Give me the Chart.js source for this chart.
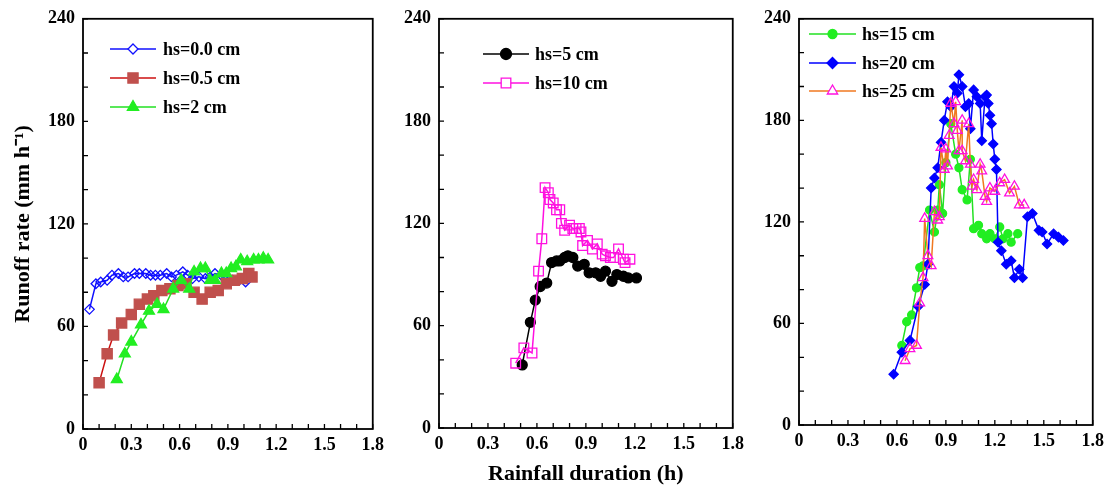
<!DOCTYPE html>
<html>
<head>
<meta charset="utf-8">
<script src="https://cdn.jsdelivr.net/npm/chart.js@4.4.1/dist/chart.umd.min.js"></script>
<style>
  body { margin: 0; background: #fff; }
  #wrap { position: relative; width: 1110px; height: 488px; overflow: hidden; }
  canvas { position: absolute; top: 0; }
</style>
</head>
<body>
<div id="wrap">
  <canvas id="c1" width="390" height="488" style="left:0px"></canvas>
  <canvas id="c2" width="350" height="488" style="left:400px"></canvas>
  <canvas id="c3" width="360" height="488" style="left:750px"></canvas>
</div>
<script>
// ---- panel 1 ----
let hs00X = [0.04, 0.08, 0.11, 0.15, 0.18, 0.22, 0.25, 0.28, 0.32, 0.35, 0.39, 0.42, 0.45, 0.48, 0.52, 0.55, 0.58, 0.62, 0.65, 0.68, 0.72, 0.76, 0.79, 0.82, 0.86, 0.89, 0.93, 0.97, 1.01];
let hs00Y = [70, 85, 86, 87, 90, 91, 89, 89, 91, 91, 91, 90, 90, 90, 91, 89, 90, 92, 90, 88, 89, 88, 89, 91, 90, 89, 87, 87, 86];

let hs05X = [0.10, 0.15, 0.19, 0.24, 0.30, 0.35, 0.40, 0.44, 0.49, 0.54, 0.59, 0.64, 0.69, 0.74, 0.79, 0.84, 0.89, 0.94, 0.99, 1.03, 1.05];
let hs05Y = [27, 44, 55, 62, 67, 73, 76, 78, 81, 82, 84, 85, 80, 76, 80, 81, 85, 87, 88, 91, 89];

let hs2X = [0.21, 0.26, 0.30, 0.36, 0.41, 0.46, 0.50, 0.56, 0.61, 0.66, 0.69, 0.73, 0.76, 0.79, 0.82, 0.86, 0.89, 0.92, 0.95, 0.98, 1.02, 1.06, 1.09, 1.12, 1.15];
let hs2Y = [29, 44, 51, 61, 69, 73, 70, 82, 87, 82, 92, 94, 94, 87, 87, 91, 91, 94, 95, 99, 98, 99, 99, 100, 99];

// ---- panel 2 ----
let hs5X = [0.51, 0.56, 0.59, 0.62, 0.66, 0.69, 0.72, 0.74, 0.77, 0.79, 0.82, 0.85, 0.89, 0.92, 0.96, 0.99, 1.02, 1.06, 1.09, 1.13, 1.16, 1.21];
let hs5Y = [37, 62, 75, 83, 85, 97, 98, 98, 100, 101, 100, 95, 96, 91, 91, 89, 92, 86, 90, 89, 88, 88];

let hs10X = [0.47, 0.52, 0.57, 0.61, 0.63, 0.65, 0.67, 0.68, 0.70, 0.72, 0.74, 0.75, 0.77, 0.80, 0.82, 0.84, 0.86, 0.87, 0.88, 0.91, 0.94, 0.97, 1.00, 1.02, 1.05, 1.07, 1.10, 1.13, 1.14, 1.17];
let hs10Y = [38, 47, 44, 92, 111, 141, 138, 134, 132, 128, 128, 120, 116, 119, 117, 117, 117, 115, 107, 110, 105, 108, 102, 101, 100, 100, 105, 99, 97, 99];

// ---- panel 3 ----
let hs15X = [0.63, 0.66, 0.69, 0.72, 0.74, 0.76, 0.80, 0.83, 0.85, 0.86, 0.88, 0.90, 0.93, 0.96, 0.98, 1.00, 1.03, 1.05, 1.07, 1.10, 1.12, 1.15, 1.17, 1.20, 1.23, 1.25, 1.28, 1.30, 1.34];
let hs15Y = [47, 61, 65, 81, 93, 94, 127, 114, 127, 142, 125, 155, 178, 160, 152, 139, 133, 157, 116, 118, 113, 110, 113, 110, 117, 110, 113, 108, 113];

let hs20X = [0.58, 0.63, 0.68, 0.73, 0.77, 0.79, 0.81, 0.83, 0.85, 0.87, 0.89, 0.91, 0.93, 0.95, 0.97, 0.98, 1.00, 1.02, 1.04, 1.05, 1.07, 1.09, 1.11, 1.12, 1.14, 1.15, 1.16, 1.17, 1.18, 1.19, 1.20, 1.21, 1.22, 1.24, 1.27, 1.30, 1.32, 1.35, 1.37, 1.40, 1.43, 1.47, 1.49, 1.52, 1.56, 1.59, 1.62];
let hs20Y = [30, 43, 50, 70, 83, 95, 140, 146, 152, 167, 180, 191, 188, 200, 196, 207, 200, 188, 190, 175, 198, 194, 190, 168, 194, 195, 190, 183, 178, 166, 157, 151, 108, 103, 95, 97, 87, 92, 87, 123, 125, 115, 114, 107, 113, 111, 109];

let hs25X = [0.65, 0.68, 0.72, 0.74, 0.76, 0.77, 0.79, 0.81, 0.83, 0.85, 0.86, 0.87, 0.89, 0.90, 0.91, 0.92, 0.93, 0.95, 0.96, 0.97, 0.98, 1.00, 1.00, 1.02, 1.04, 1.05, 1.06, 1.07, 1.09, 1.11, 1.12, 1.14, 1.15, 1.17, 1.20, 1.23, 1.26, 1.29, 1.32, 1.35, 1.38];
let hs25Y = [38, 45, 47, 72, 87, 122, 100, 94, 126, 121, 123, 164, 151, 163, 153, 171, 190, 178, 191, 174, 162, 180, 162, 156, 178, 154, 141, 145, 139, 154, 150, 135, 132, 140, 138, 143, 145, 137, 141, 130, 130];

const serif = "'Liberation Serif', 'Times New Roman', serif";

function pts(xs, ys) {
  return xs.map((x, i) => ({ x: x, y: ys[i] }));
}

function marker(ctx, style, r, x, y) {
  ctx.beginPath();
  if (style === "circle") {
    ctx.arc(x, y, r, 0, Math.PI * 2);
  } else if (style === "rect") {
    let h = r * Math.SQRT1_2;
    ctx.rect(x - h, y - h, 2 * h, 2 * h);
  } else if (style === "rectRot") {
    ctx.moveTo(x, y - r);
    ctx.lineTo(x + r, y);
    ctx.lineTo(x, y + r);
    ctx.lineTo(x - r, y);
    ctx.closePath();
  } else if (style === "triangle") {
    for (let k = 0; k < 3; k++) {
      let a = k * 2 * Math.PI / 3;
      let px = x + Math.sin(a) * r, py = y - Math.cos(a) * r;
      if (k === 0) ctx.moveTo(px, py); else ctx.lineTo(px, py);
    }
    ctx.closePath();
  }
  ctx.fill();
  ctx.stroke();
}

// frame, inward ticks and inside legend
const framePlugin = {
  id: "framePlugin",
  afterDraw(chart, args, opts) {
    const ctx = chart.ctx;
    const a = chart.chartArea;
    ctx.save();
    ctx.strokeStyle = "#000";
    ctx.lineWidth = 1.3;
    ctx.beginPath();
    chart.scales.x.ticks.forEach((t) => {
      let px = chart.scales.x.getPixelForValue(t.value);
      ctx.moveTo(px, a.bottom);
      ctx.lineTo(px, a.bottom - 5);
    });
    chart.scales.y.ticks.forEach((t) => {
      let py = chart.scales.y.getPixelForValue(t.value);
      ctx.moveTo(a.left, py);
      ctx.lineTo(a.left + 5, py);
    });
    ctx.stroke();
    ctx.lineWidth = 1.8;
    ctx.strokeRect(a.left, a.top, a.right - a.left, a.bottom - a.top);

    // legend
    ctx.font = "bold 18px " + serif;
    ctx.textBaseline = "middle";
    ctx.textAlign = "left";
    chart.data.datasets.forEach((ds) => {
      let y = opts.rows[ds.legendRow];
      ctx.strokeStyle = ds.borderColor;
      ctx.lineWidth = ds.borderWidth;
      ctx.beginPath();
      ctx.moveTo(opts.x1, y);
      ctx.lineTo(opts.x2, y);
      ctx.stroke();
      ctx.fillStyle = ds.pointBackgroundColor === "transparent" ? "#fff" : ds.pointBackgroundColor;
      ctx.strokeStyle = ds.pointBorderColor;
      ctx.lineWidth = ds.pointBorderWidth;
      marker(ctx, ds.pointStyle, ds.legendRadius, (opts.x1 + opts.x2) / 2, y);
      ctx.fillStyle = "#000";
      ctx.fillText(ds.label, opts.tx, y + 1);
    });
    ctx.restore();
  },
};

function series(label, xs, ys, line, fill, edge, style, r, lr, row, order) {
  return {
    label: label,
    data: pts(xs, ys),
    borderColor: line,
    borderWidth: 1.5,
    pointStyle: style,
    pointRadius: r,
    pointBackgroundColor: fill,
    pointBorderColor: edge,
    pointBorderWidth: 1.3,
    tension: 0,
    fill: false,
    legendRadius: lr,
    legendRow: row,
    order: order,
  };
}

function xLabel(v) {
  let k = Math.round(v * 10);
  if (k % 3 !== 0) return "";
  return k === 0 ? "0" : (k / 10).toFixed(1);
}

function makeChart(id, datasets, cfg) {
  return new Chart(id, {
    type: "line",
    data: { datasets: datasets },
    plugins: [framePlugin],
    options: {
      responsive: false,
      animation: false,
      events: [],
      layout: { padding: { top: cfg.top, right: cfg.right, left: 0, bottom: 0 } },
      plugins: {
        legend: { display: false },
        tooltip: { enabled: false },
        framePlugin: cfg.legend,
      },
      scales: {
        x: {
          type: "linear",
          min: 0,
          max: 1.8,
          grid: { display: false, drawTicks: false },
          border: { display: false },
          ticks: {
            stepSize: 0.1,
            autoSkip: false,
            maxRotation: 0,
            padding: 6,
            color: "#000",
            font: { family: serif, size: 18, weight: "bold" },
            callback: xLabel,
          },
          title: {
            display: !!cfg.xTitle,
            text: cfg.xTitle || "",
            color: "#000",
            font: { family: serif, size: 22, weight: "bold" },
            padding: { top: 0, bottom: 0 },
          },
          afterFit: (s) => { s.height = cfg.xh; },
        },
        y: {
          min: 0,
          max: 240,
          grid: { display: false, drawTicks: false },
          border: { display: false },
          ticks: {
            stepSize: 20,
            autoSkip: false,
            padding: 8,
            color: "#000",
            font: { family: serif, size: 18, weight: "bold" },
            callback: (v) => (v % 60 === 0 ? String(v) : ""),
          },
          title: {
            display: !!cfg.yTitle,
            text: cfg.yTitle || "",
            color: "#000",
            font: { family: serif, size: 22, weight: "bold" },
            padding: { top: 10, bottom: 0 },
          },
          afterFit: (s) => { s.width = cfg.yw; },
        },
      },
    },
  });
}

makeChart("c1", [
  series("hs=0.0 cm", hs00X, hs00Y, "#1010ff", "transparent", "#1010ff", "rectRot", 4.8, 5, 0, 2),
  series("hs=0.5 cm", hs05X, hs05Y, "#cc1010", "#c0504d", "#c0504d", "rect", 7.2, 7.2, 1, 1),
  series("hs=2 cm", hs2X, hs2Y, "#22e022", "#22ee22", "#22ee22", "triangle", 6.3, 6.5, 2, 0),
], {
  top: 15, right: 11, yw: 83, xh: 59,
  yTitle: "Runoff rate (mm h\u207B\u00B9)",
  legend: { x1: 110, x2: 156, tx: 163, rows: [49, 78, 107] },
});

makeChart("c2", [
  series("hs=5 cm", hs5X, hs5Y, "#000", "#000", "#000", "circle", 5, 5.5, 0, 1),
  series("hs=10 cm", hs10X, hs10Y, "#ff10e0", "transparent", "#ff10e0", "rect", 6.8, 6.8, 1, 0),
], {
  top: 14, right: 16, yw: 39, xh: 60,
  xTitle: "Rainfall duration (h)",
  legend: { x1: 83, x2: 129, tx: 135, rows: [54, 83] },
});

makeChart("c3", [
  series("hs=15 cm", hs15X, hs15Y, "#22e022", "#22ee22", "#22ee22", "circle", 4, 4.5, 0, 2),
  series("hs=20 cm", hs20X, hs20Y, "#0000ff", "#0000ff", "#0000ff", "rectRot", 4.6, 5.5, 1, 1),
  series("hs=25 cm", hs25X, hs25Y, "#f07820", "transparent", "#ff10e0", "triangle", 5.6, 6, 2, 0),
], {
  top: 11, right: 16, yw: 49, xh: 63,
  legend: { x1: 59, x2: 106, tx: 112, rows: [34, 63, 91] },
});
</script>
</body>
</html>
